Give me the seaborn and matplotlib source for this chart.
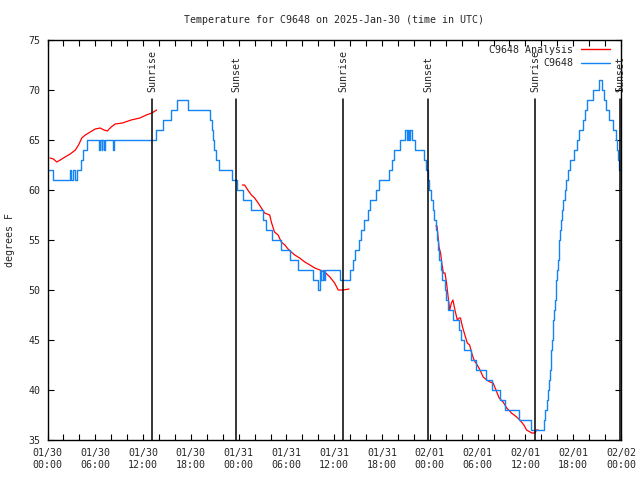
import matplotlib
matplotlib.use('Agg')
import matplotlib.pyplot as plt
import matplotlib.dates as mdates
import matplotlib.transforms as mtransforms
from matplotlib.lines import Line2D
import pandas as pd
import seaborn as sns

# -------------------------------------------------------
# data (hours after 2025-01-30 00:00 UTC)
start = pd.Timestamp('2025-01-30 00:00')

# observed temperature, stored as change points (stepped line)
obs_hours = [0.0, 0.75, 2.8, 3.0, 3.2, 3.45, 3.65, 4.25, 4.5, 4.9, 6.45, 6.6, 6.8, 6.9, 7.05, 7.2,
             8.2, 8.4, 13.6, 14.5, 15.5, 16.2, 17.6, 20.45, 20.6, 20.8, 20.95, 21.1, 21.5, 23.2,
             23.75, 24.5, 25.6, 27.0, 27.4, 28.2, 29.3, 30.4, 31.4, 33.3, 33.9, 34.15, 34.35, 34.55,
             34.7, 34.85, 36.7, 37.95, 38.3, 38.55, 39.1, 39.3, 39.7, 40.2, 40.5, 41.3, 41.6, 42.85,
             43.3, 43.55, 44.3, 44.9, 45.1, 45.2, 45.35, 45.45, 45.8, 46.2, 47.3, 47.55, 47.75, 47.95,
             48.15, 48.35, 48.55, 48.75, 48.9, 49.05, 49.2, 49.4, 49.55, 49.85, 50.05, 50.3, 50.9,
             51.65, 51.95, 52.35, 53.2, 53.75, 55.0, 55.85, 56.75, 57.4, 59.2, 60.65, 62.3, 62.45,
             62.7, 62.87, 62.95, 63.05, 63.15, 63.25, 63.33, 63.42, 63.52, 63.6, 63.7, 63.8, 63.9,
             64.0, 64.1, 64.18, 64.27, 64.37, 64.5, 64.63, 64.78, 64.93, 65.1, 65.3, 65.6, 66.15,
             66.45, 66.75, 67.25, 67.45, 67.7, 68.5, 69.2, 69.6, 69.85, 70.1, 70.5, 70.95, 71.35,
             71.48, 71.6, 71.75, 72.0]
obs_temp = [62, 61, 62, 61, 62, 61, 62, 63, 64, 65, 64, 65, 64, 65, 64, 65,
            64, 65, 66, 67, 68, 69, 68, 67, 66, 65, 64, 63, 62, 61,
            60, 59, 58, 57, 56, 55, 54, 53, 52, 51, 50, 52, 51, 52,
            51, 52, 51, 52, 53, 54, 55, 56, 57, 58, 59, 60, 61, 62,
            63, 64, 65, 66, 65, 66, 65, 66, 65, 64, 63, 62, 61, 60,
            59, 58, 57, 56, 55, 54, 53, 52, 51, 50, 49, 48, 47,
            46, 45, 44, 43, 42, 41, 40, 39, 38, 37, 36, 37, 38,
            39, 40, 41, 42, 43, 44, 45, 46, 47, 48, 49, 50, 51,
            52, 53, 54, 55, 56, 57, 58, 59, 60, 61, 62, 63, 64,
            65, 66, 67, 68, 69, 70, 71, 70, 69, 68, 67, 66, 65,
            64, 63, 62, 62]

# analysis temperature, three separate pieces
ana_hours_1 = [0.3, 0.75, 1.15, 1.6, 2.2, 2.85, 3.5, 3.9, 4.3, 4.75, 5.35, 6.0, 6.6, 7.1, 7.5,
               8.0, 8.5, 9.4, 10.5, 11.6, 12.4, 13.1, 13.7]
ana_temp_1 = [63.2, 63.1, 62.8, 63.0, 63.3, 63.6, 64.0, 64.5, 65.2, 65.5, 65.8, 66.1, 66.2, 66.0, 65.9,
              66.3, 66.6, 66.7, 67.0, 67.2, 67.5, 67.7, 68.0]
ana_hours_2 = [24.45, 24.75, 25.15, 25.6, 26.0, 26.45, 26.85, 27.25, 27.9, 28.1, 28.5, 28.95, 29.35,
               29.8, 30.2, 30.6, 31.05, 31.65, 32.3, 32.95, 33.55, 34.2, 34.8, 35.45, 36.05, 36.5,
               37.1, 37.85]
ana_temp_2 = [60.5, 60.5, 60.0, 59.5, 59.2, 58.7, 58.2, 57.7, 57.5, 56.8, 55.8, 55.5, 54.8,
              54.5, 54.1, 53.8, 53.5, 53.2, 52.8, 52.5, 52.2, 52.0, 51.8, 51.3, 50.7, 50.0,
              50.0, 50.1]
ana_hours_3 = [48.75, 48.9, 49.15, 49.35, 49.5, 49.7, 49.9, 50.1, 50.3, 50.5, 50.7, 50.9, 51.15,
               51.45, 51.7, 51.85, 52.1, 52.4, 52.7, 53.0, 53.25, 53.55, 53.95, 54.3, 54.7, 55.15,
               55.55, 55.95, 56.3, 56.7, 57.2, 57.65, 58.25, 58.9, 59.3, 59.8, 60.15, 60.8, 61.2,
               61.4, 61.6]
ana_temp_3 = [56.4, 56.4, 54.3, 53.7, 52.7, 51.7, 51.7, 50.7, 49.3, 48.0, 48.7, 49.0, 48.0,
              47.0, 47.2, 47.2, 46.3, 45.5, 44.7, 44.5, 43.7, 43.0, 42.5, 42.0, 41.3, 41.0,
              40.8, 40.7, 40.0, 39.2, 38.8, 38.2, 37.7, 37.3, 37.0, 36.5, 36.0, 35.7, 35.7,
              36.0, 36.0]

sun_labels = ['Sunrise', 'Sunset', 'Sunrise', 'Sunset', 'Sunrise', 'Sunset']
sun_hours = [13.16, 23.67, 37.14, 47.81, 61.24, 71.88]

obs_color = '#1484f5'
ana_color = '#ff0000'

# -------------------------------------------------------
# building the frames
obs = pd.DataFrame({'time': start + pd.to_timedelta(obs_hours, unit='h'), 'temp': obs_temp})
ana = pd.concat([
    pd.DataFrame({'hours': h, 'temp': t, 'seg': i})
    for i, (h, t) in enumerate([(ana_hours_1, ana_temp_1), (ana_hours_2, ana_temp_2), (ana_hours_3, ana_temp_3)])
])
ana['time'] = start + pd.to_timedelta(ana['hours'], unit='h')
sun_times = start + pd.to_timedelta(sun_hours, unit='h')

# -------------------------------------------------------
# creating the chart
sns.set_style('ticks')
plt.rcParams['font.family'] = ['DejaVu Sans Mono']
plt.rcParams['axes.edgecolor'] = 'black'

fig = plt.figure(figsize=(6.4, 4.8), dpi=100)
ax = fig.add_axes([47.5 / 640, 40 / 480, 573.5 / 640, 400 / 480])

sns.lineplot(data=ana, x='time', y='temp', units='seg', estimator=None, color=ana_color,
             linewidth=0.9, legend=False, ax=ax)
sns.lineplot(data=obs, x='time', y='temp', estimator=None, color=obs_color, linewidth=1.0,
             drawstyle='steps-post', legend=False, ax=ax)

# sunrise / sunset markers
trans = mtransforms.blended_transform_factory(ax.transData, ax.transAxes)
for t, lab in zip(sun_times, sun_labels):
    ax.axvline(t, ymin=0, ymax=0.852, color='black', linewidth=1.1)
    ax.text(t, 0.87, lab, transform=trans, rotation=90, ha='center', va='bottom', fontsize=7.2)

# axes format
ax.set_xlim(start, start + pd.Timedelta(hours=72))
ax.set_ylim(35, 75)
ax.set_yticks(range(35, 76, 5))
ax.xaxis.set_major_locator(mdates.HourLocator(byhour=[0, 6, 12, 18]))
ax.xaxis.set_minor_locator(mdates.HourLocator(byhour=range(0, 24, 2)))
ax.xaxis.set_major_formatter(mdates.DateFormatter('%m/%d\n%H:%M'))
ax.tick_params(which='both', direction='in', top=True, right=True, length=4, width=0.8,
               labelsize=7.2, color='black')
ax.tick_params(axis='x', pad=6)
ax.tick_params(axis='y', pad=5)
ax.set_xlabel('')
ax.set_ylabel('')
for sp in ax.spines.values():
    sp.set_linewidth(1.0)
    sp.set_color('black')

fig.text(334 / 640, 1 - 20 / 480, 'Temperature for C9648 on 2025-Jan-30 (time in UTC)',
         ha='center', va='center', fontsize=7.2)
fig.text(10 / 640, 0.5, 'degrees F', rotation=90, ha='center', va='center', fontsize=7.2)

handles = [Line2D([], [], color=ana_color, linewidth=1.0), Line2D([], [], color=obs_color, linewidth=1.0)]
ax.legend(handles, ['C9648 Analysis', 'C9648'], loc='upper right', bbox_to_anchor=(0.981, 0.9875),
          markerfirst=False, frameon=False, fontsize=7.2, handlelength=2.9, handletextpad=0.8,
          labelspacing=0.35, borderpad=0, borderaxespad=0)

fig.savefig('out.png', dpi=100)
